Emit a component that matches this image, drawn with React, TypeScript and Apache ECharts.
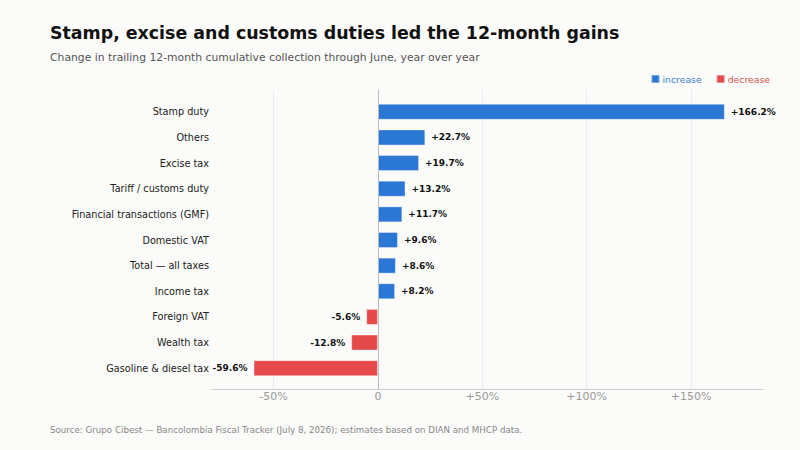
import React, { useEffect, useRef } from "react";
import * as echarts from "echarts";

const categories = [
  "Stamp duty",
  "Others",
  "Excise tax",
  "Tariff / customs duty",
  "Financial transactions (GMF)",
  "Domestic VAT",
  "Total — all taxes",
  "Income tax",
  "Foreign VAT",
  "Wealth tax",
  "Gasoline & diesel tax",
];
const changePct = [166.2, 22.7, 19.7, 13.2, 11.7, 9.6, 8.6, 8.2, -5.6, -12.8, -59.6];

const TITLE = "Stamp, excise and customs duties led the 12-month gains";
const SUBTITLE = "Change in trailing 12-month cumulative collection through June, year over year";
const SOURCE = "Source: Grupo Cibest — Bancolombia Fiscal Tracker (July 8, 2026); estimates based on DIAN and MHCP data.";

const BLUE = "#2a77d6";
const RED = "#e54a4b";
const FONT = "DejaVu Sans";

const fmt = (v: number) => (v > 0 ? "+" : "") + v.toFixed(1) + "%";

export default function App() {
  const ref = useRef<HTMLDivElement>(null);
  useEffect(() => {
    document.body.style.margin = "0";
    const chart = echarts.init(ref.current!, null, { renderer: "svg" });
    const incData = changePct.map((v) => (v >= 0 ? v : "-"));
    const decData = changePct.map((v) => (v < 0 ? v : "-"));
    const xMin = -79.5;
    const xMax = 184.5;
    const labelStyle = {
      show: true,
      fontFamily: FONT,
      fontSize: 9,
      fontWeight: "bold" as const,
      color: "#111",
      distance: 6,
      formatter: (p: any) => fmt(p.value),
    };
    chart.setOption({
      animation: false,
      backgroundColor: "#fbfbf9",
      textStyle: { fontFamily: FONT },
      title: [
        {
          text: TITLE,
          left: 45,
          top: 19,
          textStyle: { fontFamily: FONT, fontSize: 17.4, fontWeight: "bold", color: "#111" },
        },
        {
          text: SUBTITLE,
          left: 45,
          top: 47,
          textStyle: { fontFamily: FONT, fontSize: 10.8, fontWeight: "normal", color: "#555" },
        },
        {
          text: SOURCE,
          left: 45,
          top: 420,
          textStyle: { fontFamily: FONT, fontSize: 8.7, fontWeight: "normal", color: "#888" },
        },
      ],
      legend: {
        right: 25,
        top: 69,
        itemWidth: 8,
        itemHeight: 8,
        itemGap: 14,
        icon: "rect",
        data: [
          { name: "increase", textStyle: { color: "#3a7dd6" } },
          { name: "decrease", textStyle: { color: "#d9534f" } },
        ],
        textStyle: { fontFamily: FONT, fontSize: 9.3, padding: [0, 0, 0, -2] },
      },
      grid: [
        { left: 212, right: 37, top: 90, bottom: 61 },
        { left: 212, right: 37, top: 99, bottom: 69 },
      ],
      xAxis: [
        {
          gridIndex: 0,
          type: "value",
          min: xMin,
          max: xMax,
          splitNumber: 5,
          axisLine: { show: true, lineStyle: { color: "#cccccc" } },
          axisTick: { show: false },
          axisLabel: {
            showMinLabel: false,
            showMaxLabel: false,
            fontFamily: FONT,
            fontSize: 11,
            color: "#999",
            margin: 2,
            formatter: (v: number) => (v === 0 ? "0" : (v > 0 ? "+" : "") + v + "%"),
          },
          splitLine: {
            show: true,
            showMinLine: false,
            showMaxLine: false,
            lineStyle: { color: "#ececec" },
          },
        },
        {
          gridIndex: 1,
          type: "value",
          min: xMin,
          max: xMax,
          show: false,
          splitLine: { show: false },
        },
      ],
      yAxis: [
        {
          gridIndex: 0,
          type: "value",
          min: 0,
          max: 1,
          axisLine: { show: true, lineStyle: { color: "#cccccc" } },
          axisTick: { show: false },
          axisLabel: { show: false },
          splitLine: { show: false },
        },
        {
          gridIndex: 1,
          type: "category",
          data: categories,
          inverse: true,
          axisLine: { show: false },
          axisTick: { show: false },
          axisLabel: { fontFamily: FONT, fontSize: 9.7, color: "#222", margin: 3 },
          splitLine: { show: false },
        },
      ],
      series: [
        {
          type: "line",
          xAxisIndex: 0,
          yAxisIndex: 0,
          data: [],
          silent: true,
          markLine: {
            silent: true,
            symbol: "none",
            label: { show: false },
            lineStyle: { color: "#bbbbbb", type: "solid", width: 1 },
            data: [{ xAxis: 0 }],
          },
        },
        {
          name: "increase",
          type: "bar",
          xAxisIndex: 1,
          yAxisIndex: 1,
          data: incData,
          barWidth: 16,
          barGap: "-100%",
          itemStyle: { color: BLUE, borderColor: "rgba(255,255,255,0.35)", borderWidth: 1 },
          label: { ...labelStyle, position: "right" },
        },
        {
          name: "decrease",
          type: "bar",
          xAxisIndex: 1,
          yAxisIndex: 1,
          data: decData,
          barWidth: 16,
          barGap: "-100%",
          itemStyle: { color: RED, borderColor: "rgba(255,255,255,0.35)", borderWidth: 1 },
          label: { ...labelStyle, position: "left" },
        },
      ],
    });
    return () => chart.dispose();
  }, []);
  return <div ref={ref} style={{ width: 800, height: 450 }} />;
}
